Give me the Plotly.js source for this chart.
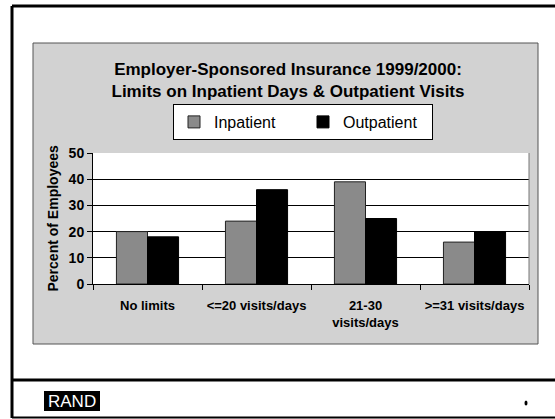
<!DOCTYPE html>
<html><head><meta charset="utf-8">
<script src="https://cdn.plot.ly/plotly-3.0.1.min.js"></script>
<style>html,body{margin:0;padding:0;background:#fff;overflow:hidden}#chart{width:555px;height:419px;overflow:hidden}</style>
</head><body><div id="chart"></div>
<script>
// ---- data ----
const categories = ['No limits', '&lt;=20 visits/days', '21-30<br>visits/days', '&gt;=31 visits/days'];
const inpatient = [20, 24, 39, 16];
const outpatient = [18, 36, 25, 20];
const yTickValues = [0, 10, 20, 30, 40, 50];
const seriesNames = ['Inpatient', 'Outpatient'];
const titleLines = ['Employer-Sponsored Insurance 1999/2000:', 'Limits on Inpatient Days & Outpatient Visits'];
const yAxisTitle = 'Percent of Employees';
const logoText = 'RAND';

// ---- layout helpers (pixel -> paper) ----
const W = 555, H = 419, L = 93, R = 529, T = 153, B = 284;
const px = x => (x - L) / (R - L);
const py = y => (B - y) / (B - T);
const FONT = 'Liberation Sans, Arial, Helvetica, sans-serif';

const traces = [
  {type: 'bar', name: seriesNames[0], x: categories, y: inpatient,
   marker: {color: '#8a8a8a', line: {color: '#222', width: 1}}},
  {type: 'bar', name: seriesNames[1], x: categories, y: outpatient,
   marker: {color: '#000000', line: {color: '#000', width: 1}}}
];

const layout = {
  width: W, height: H,
  margin: {l: L, r: W - R, t: T, b: H - B, pad: 0},
  paper_bgcolor: '#ffffff', plot_bgcolor: '#ffffff',
  font: {family: FONT, color: '#000'},
  barmode: 'group', bargap: 0.43, bargroupgap: 0,
  showlegend: true,
  title: {text: titleLines.join('<br>'), x: px(288), xref: 'paper', xanchor: 'center',
          y: 1 - 75 / H, yref: 'container', yanchor: 'middle',
          font: {family: FONT, size: 17, weight: 'bold', color: '#000'}},
  legend: {orientation: 'h', x: px(173), xanchor: 'left', y: py(104), yanchor: 'top',
           bgcolor: '#ffffff', bordercolor: '#000', borderwidth: 1,
           font: {family: FONT, size: 16, color: '#000'},
           entrywidth: 84, entrywidthmode: 'pixels', traceorder: 'normal'},
  xaxis: {type: 'category', showgrid: false, showline: true, linecolor: '#000', linewidth: 1,
          ticks: 'outside', tickson: 'boundaries', ticklen: 5, tickcolor: '#000',
          ticklabelstandoff: 9,
          tickfont: {family: FONT, size: 13, weight: 'bold', color: '#000'}, fixedrange: true},
  yaxis: {range: [0, 50], tickvals: yTickValues, showgrid: true, gridcolor: '#000', gridwidth: 1,
          showline: true, linecolor: '#000', linewidth: 1, zeroline: false,
          ticks: 'outside', ticklen: 5, tickcolor: '#000',
          tickfont: {family: FONT, size: 14, weight: 'bold', color: '#000'}, fixedrange: true},
  shapes: [
    {type: 'rect', xref: 'paper', yref: 'paper', x0: px(33), x1: px(538), y0: py(344), y1: py(43),
     fillcolor: '#d2d2d2', line: {color: '#555', width: 1}, layer: 'below'},
    {type: 'rect', xref: 'paper', yref: 'paper', x0: 0, x1: 1, y0: 0, y1: 1,
     fillcolor: '#ffffff', line: {width: 0}, layer: 'below'},
    {type: 'line', xref: 'paper', yref: 'paper', x0: 1, x1: 1, y0: 0, y1: 1,
     line: {color: '#777', width: 1}},
    {type: 'rect', xref: 'paper', yref: 'paper', x0: px(546), x1: px(556), y0: py(420), y1: py(-1),
     fillcolor: '#ffffff', line: {width: 0}},
    {type: 'line', xref: 'paper', yref: 'paper', x0: px(12), x1: px(555), y0: py(6), y1: py(6),
     line: {color: '#000', width: 3}},
    {type: 'line', xref: 'paper', yref: 'paper', x0: px(12), x1: px(12), y0: py(6), y1: py(418),
     line: {color: '#000', width: 3}},
    {type: 'line', xref: 'paper', yref: 'paper', x0: px(12), x1: px(555), y0: py(417.5), y1: py(417.5),
     line: {color: '#000', width: 2}},
    {type: 'line', xref: 'paper', yref: 'paper', x0: px(12), x1: px(555), y0: py(380), y1: py(380),
     line: {color: '#000', width: 3}},
    {type: 'rect', xref: 'paper', yref: 'paper', x0: px(44), x1: px(100), y0: py(411), y1: py(391),
     fillcolor: '#000', line: {width: 0}},
    {type: 'circle', xref: 'paper', yref: 'paper', x0: px(524.5), x1: px(527.5), y0: py(405.5), y1: py(400.5),
     fillcolor: '#000', line: {width: 0}}
  ],
  annotations: [
    {text: yAxisTitle, xref: 'paper', yref: 'paper', x: px(52), y: 0.5, xanchor: 'center', yanchor: 'middle',
     textangle: -90, showarrow: false, font: {family: FONT, size: 14, weight: 'bold', color: '#000'}},
    {text: logoText, xref: 'paper', yref: 'paper', x: px(72), y: py(401), xanchor: 'center', yanchor: 'middle',
     showarrow: false, font: {family: FONT, size: 17, color: '#fff'}}
  ]
};

Plotly.newPlot('chart', traces, layout, {displayModeBar: false, staticPlot: true});
</script></body></html>
